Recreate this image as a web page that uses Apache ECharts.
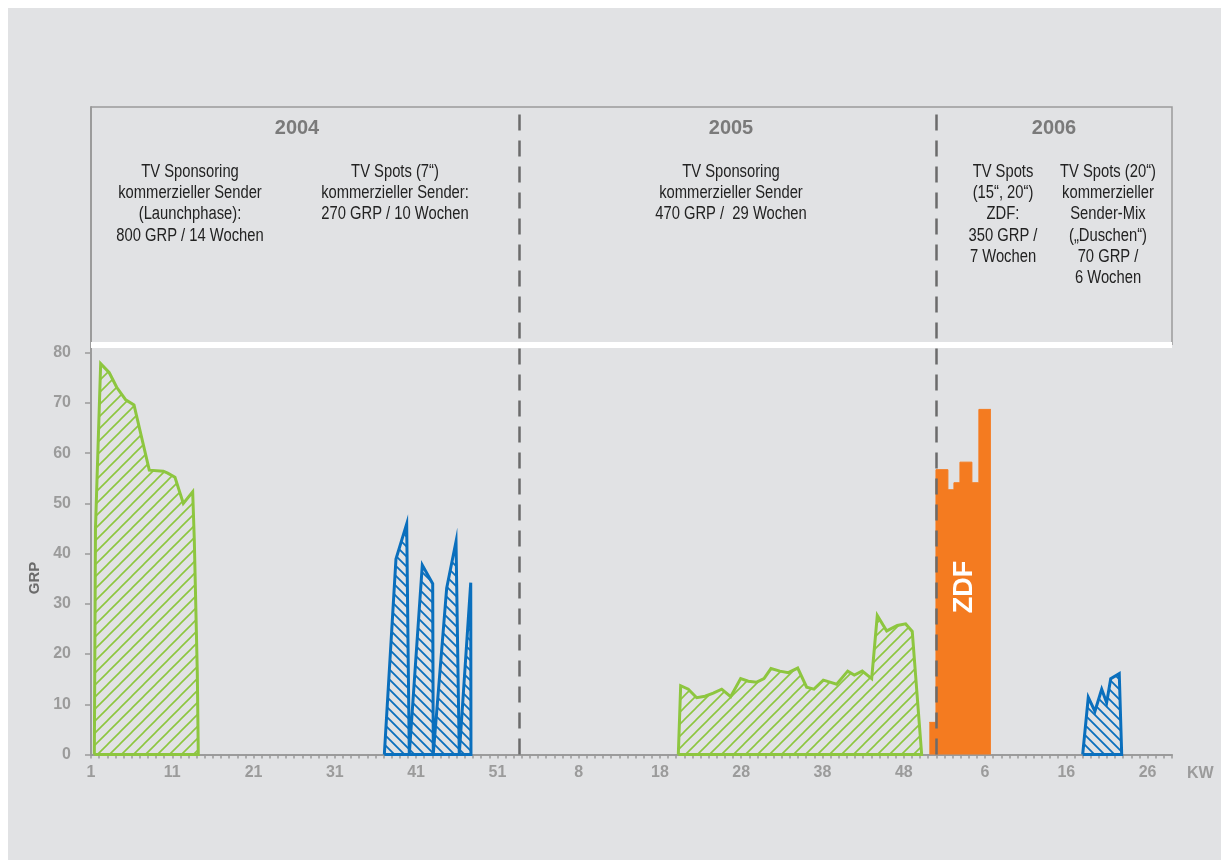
<!DOCTYPE html>
<html>
<head>
<meta charset="utf-8">
<title>GRP Kampagnenverlauf</title>
<script src="https://cdn.jsdelivr.net/npm/echarts@6/dist/echarts.min.js"></script>
<style>
    html, body { margin: 0; padding: 0; background: #fff; }
    #main { width: 1221px; height: 860px; }
</style>
</head>
<body>
<div id="main"></div>
<script>
// x = laufende Woche ab KW 1/2004 (0 = KW1 2004, 53 = KW1 2005, 105 = KW1 2006)
const xTickLabels = ['1', '11', '21', '31', '41', '51', '8', '18', '28', '38', '48', '6', '16', '26'];
const yTicks = [0, 10, 20, 30, 40, 50, 60, 70, 80];
const yearBreaks = [52.66, 104.0];

// [woche, GRP]
const sponsoring2004 = [
    [0.41, 0], [0.55, 45], [1.19, 77.8], [2.25, 76.0], [3.16, 73.1], [4.27, 70.6],
    [5.29, 69.6], [7.17, 56.6], [8.9, 56.4], [9.44, 56.0], [10.33, 55.2],
    [11.36, 50.0], [12.51, 52.3], [12.71, 42.7], [13.08, 16.2], [13.2, 0], [0.41, 0]
];
const spots2004 = [
    [36.09, 0], [37.52, 38.9], [38.84, 45.9], [39.16, 0], [40.76, 37.7], [42.04, 34.0],
    [42.11, 0], [43.76, 33.1], [44.91, 42.4], [45.31, 0], [46.72, 34.2], [46.75, 0], [36.09, 0]
];
const sponsoring2005 = [
    [72.26, 0], [72.55, 13.7], [73.49, 13.0], [74.52, 11.3], [75.54, 11.6], [76.56, 12.2],
    [77.6, 13.0], [78.7, 11.5], [79.93, 15.1], [80.87, 14.6], [81.9, 14.4], [82.8, 15.1],
    [83.66, 17.1], [84.76, 16.6], [85.79, 16.3], [86.95, 17.2], [88.05, 13.4], [88.95, 13.0],
    [90.1, 14.8], [90.92, 14.4], [91.74, 14.0], [93.1, 16.6], [93.91, 15.8], [94.89, 16.6],
    [96.05, 15.1], [96.74, 27.7], [97.9, 24.6], [99.2, 25.7], [100.23, 26.0], [101.04, 24.5],
    [102.2, 0], [72.26, 0]
];
const zdf2006 = [
    [103.14, 6.4], [103.96, 56.7], [105.43, 52.7], [106.17, 54.1], [106.91, 58.2],
    [108.38, 54.1], [109.24, 68.7], [110.72, 68.7]
];
const duschen2006 = [
    [122.01, 0], [122.7, 11.4], [123.52, 8.6], [124.35, 13.0], [124.96, 10.3],
    [125.46, 15.1], [126.51, 16.1], [126.81, 0], [122.01, 0]
];

const GREEN = '#8dc63f';
const BLUE = '#0a6fbd';
const ORANGE = '#f47b20';
const GREY = '#9b9b9b';
const SANS = "'Liberation Sans', Arial, sans-serif";

// Schraffur als Kachel
function hatch(color, size, width, up) {
    const c = document.createElement('canvas');
    c.width = size;
    c.height = size;
    const ctx = c.getContext('2d');
    ctx.strokeStyle = color;
    ctx.lineWidth = width;
    ctx.beginPath();
    if (up) {
        ctx.moveTo(0, size); ctx.lineTo(size, 0);
        ctx.moveTo(-1, 1); ctx.lineTo(1, -1);
        ctx.moveTo(size - 1, size + 1); ctx.lineTo(size + 1, size - 1);
    } else {
        ctx.moveTo(0, 0); ctx.lineTo(size, size);
        ctx.moveTo(size - 1, -1); ctx.lineTo(size + 1, 1);
        ctx.moveTo(-1, size - 1); ctx.lineTo(1, size + 1);
    }
    ctx.stroke();
    return c;
}
const greenHatch = { image: hatch(GREEN, 12, 1.6, true), repeat: 'repeat' };
const blueHatch = { image: hatch(BLUE, 10, 1.8, false), repeat: 'repeat' };

function areaSeries(data, color, fill) {
    return {
        type: 'line',
        data: data,
        symbol: 'none',
        lineStyle: { color: color, width: 3, join: 'miter' },
        areaStyle: { color: fill, opacity: 1 },
        z: 3
    };
}

// schmale Schrift: Liberation Sans horizontal gestaucht
const headerText = function(text, x) {
    return {
        type: 'text', x: x, y: 161, z: 10, scaleX: 0.82,
        style: {
            text: text, align: 'center', verticalAlign: 'top',
            fontFamily: SANS, fontSize: 18, lineHeight: 21.3, fill: '#222'
        }
    };
};
const yearText = function(text, x) {
    return {
        type: 'text', x: x, y: 128, z: 10,
        style: {
            text: text, align: 'center', verticalAlign: 'middle',
            fontFamily: SANS, fontWeight: 'bold', fontSize: 20, fill: '#7a7a7a'
        }
    };
};

const myChart = echarts.init(document.getElementById('main'));
const option = {
    animation: false,
    backgroundColor: '#fff',
    grid: { left: 91, right: 49, top: 107, bottom: 105.5 },
    xAxis: {
        type: 'value',
        min: 0,
        max: 133,
        interval: 1,
        name: 'KW',
        nameLocation: 'end',
        nameGap: 15,
        nameTextStyle: {
            color: GREY, fontFamily: SANS, fontWeight: 'bold', fontSize: 16,
            verticalAlign: 'top', padding: [11, 0, 0, 0]
        },
        axisLine: { lineStyle: { color: GREY, width: 2 } },
        axisTick: { length: 4, lineStyle: { color: GREY, width: 1.5 } },
        splitLine: { show: false },
        axisLabel: {
            margin: 10,
            color: GREY,
            fontFamily: SANS,
            fontWeight: 'bold',
            fontSize: 16,
            formatter: function(v) {
                return v % 10 === 0 && xTickLabels[v / 10] !== undefined ? xTickLabels[v / 10] : '';
            }
        }
    },
    yAxis: {
        type: 'value',
        min: 0,
        max: 128.9,
        interval: 10,
        axisLine: { show: true, lineStyle: { color: GREY, width: 2 } },
        axisTick: { show: true, length: 6, customValues: yTicks, lineStyle: { color: GREY, width: 1.5 } },
        splitLine: { show: false },
        axisLabel: {
            customValues: yTicks,
            margin: 20,
            color: GREY,
            fontFamily: SANS,
            fontWeight: 'bold',
            fontSize: 16,
            formatter: function(v) { return v <= 80 ? String(v) : ''; }
        }
    },
    graphic: [
        { type: 'rect', z: -100, silent: true, shape: { x: 8, y: 8, width: 1213, height: 852 }, style: { fill: '#e1e2e4' } },
        { type: 'polyline', z: 1, silent: true, shape: { points: [[91, 107], [1172, 107], [1172, 345]] }, style: { stroke: GREY, lineWidth: 1.5, fill: null } },
        yearText('2004', 297),
        yearText('2005', 731),
        yearText('2006', 1054),
        headerText('TV Sponsoring\nkommerzieller Sender\n(Launchphase):\n800 GRP / 14 Wochen', 190),
        headerText('TV Spots (7“)\nkommerzieller Sender:\n270 GRP / 10 Wochen', 395),
        headerText('TV Sponsoring\nkommerzieller Sender\n470 GRP /  29 Wochen', 731),
        headerText('TV Spots\n(15“, 20“)\nZDF:\n350 GRP /\n7 Wochen', 1003),
        headerText('TV Spots (20“)\nkommerzieller\nSender-Mix\n(„Duschen“)\n70 GRP /\n6 Wochen', 1108),
        {
            type: 'text', x: 35, y: 578, rotation: Math.PI / 2, z: 10,
            style: { text: 'GRP', align: 'center', verticalAlign: 'middle', fontFamily: SANS, fontWeight: 'bold', fontSize: 15, fill: '#6b6b6b' }
        },
        {
            type: 'text', x: 965, y: 587, rotation: Math.PI / 2, z: 100,
            style: { text: 'ZDF', align: 'center', verticalAlign: 'middle', fontFamily: SANS, fontWeight: 'bold', fontSize: 27, fill: '#fff' }
        }
    ],
    series: [
        areaSeries(sponsoring2004, GREEN, greenHatch),
        areaSeries(spots2004, BLUE, blueHatch),
        areaSeries(sponsoring2005, GREEN, greenHatch),
        {
            type: 'line',
            data: zdf2006,
            step: 'end',
            symbol: 'none',
            lineStyle: { color: ORANGE, width: 1 },
            areaStyle: { color: ORANGE, opacity: 1 },
            z: 3
        },
        areaSeries(duschen2006, BLUE, blueHatch),
        {
            // Trennlinien Jahre + weiße Kante unter dem Kopfbereich
            type: 'line',
            data: [],
            z: 6,
            markLine: {
                silent: true,
                symbol: 'none',
                label: { show: false },
                data: [
                    { yAxis: 81.5, lineStyle: { color: '#fff', width: 6, type: 'solid' } },
                    { xAxis: yearBreaks[0], lineStyle: { color: '#6b6b6b', width: 2.5, type: [16, 10] } },
                    { xAxis: yearBreaks[1], lineStyle: { color: '#6b6b6b', width: 2.5, type: [16, 10] } }
                ]
            }
        }
    ]
};
myChart.setOption(option);
window.addEventListener('resize', function () {
    myChart.resize();
});
</script>
</body>
</html>
